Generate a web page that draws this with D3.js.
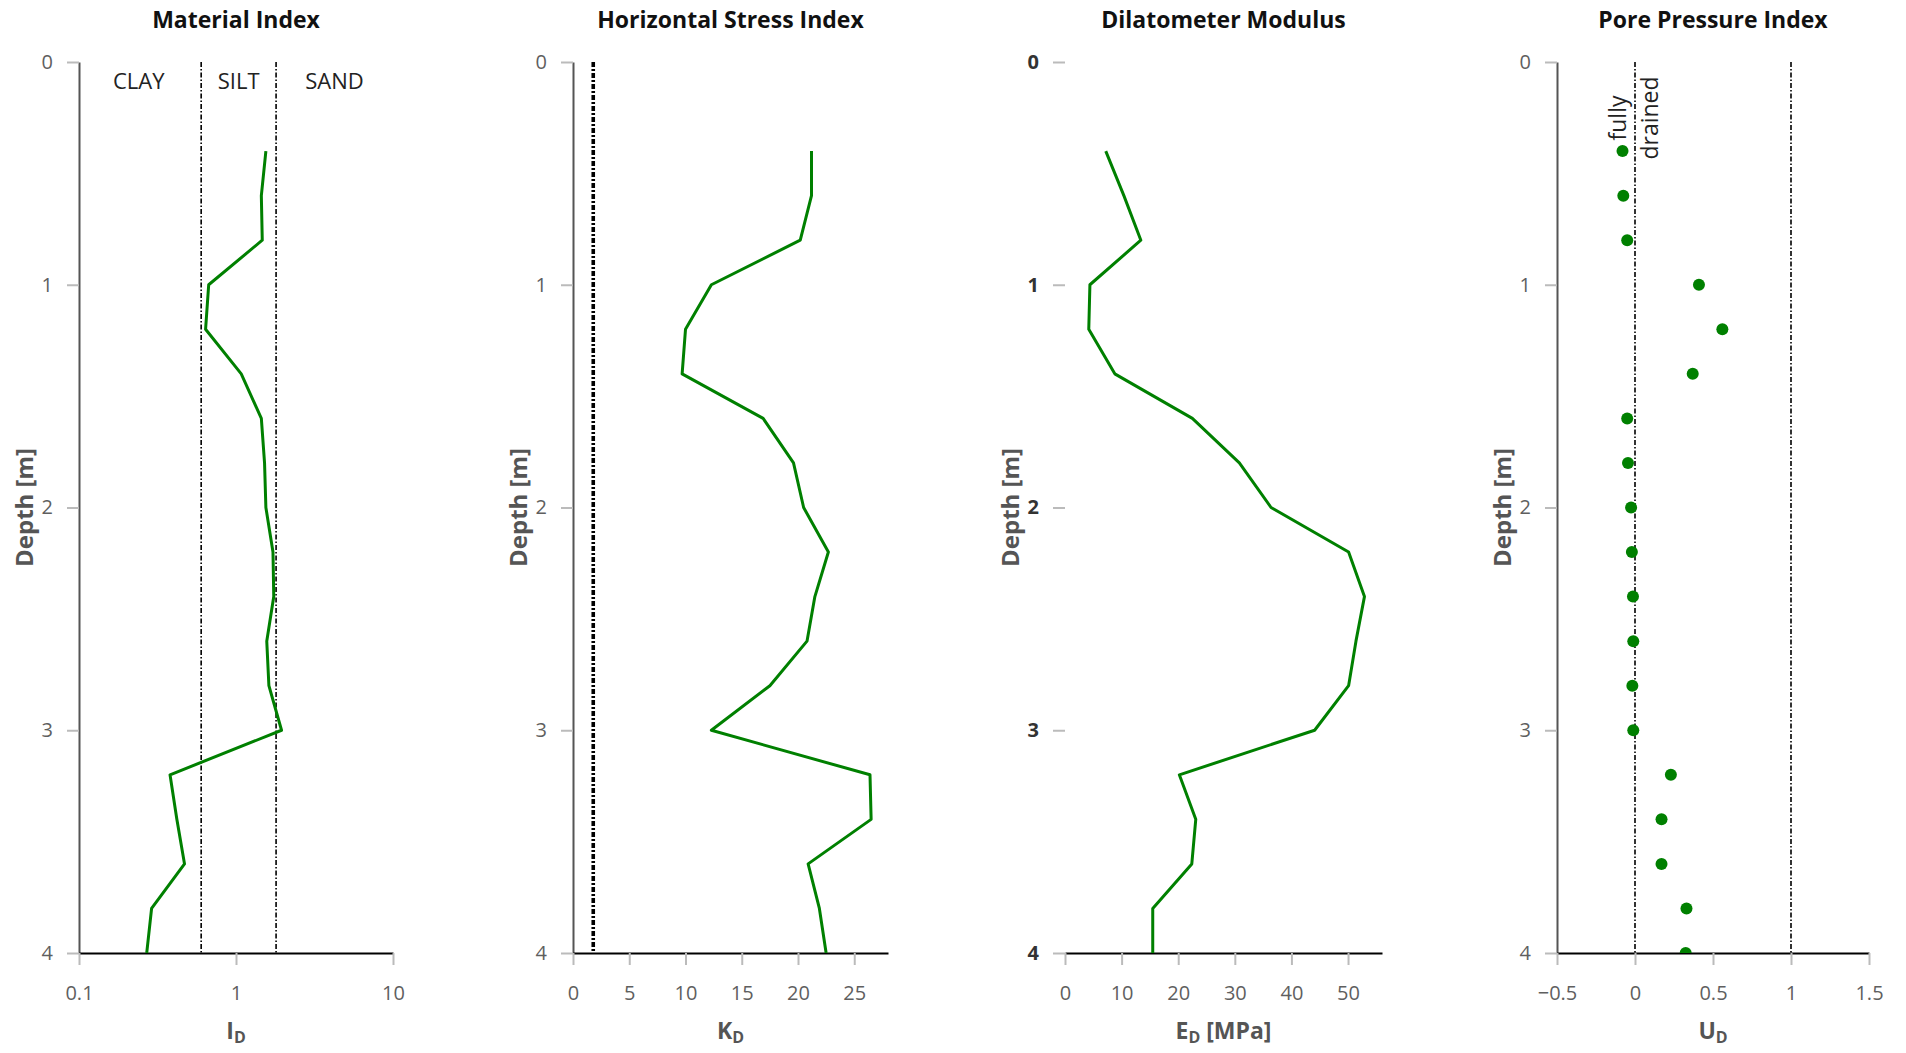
<!DOCTYPE html>
<html>
<head>
<meta charset="utf-8">
<script src="https://cdn.jsdelivr.net/npm/d3@7"></script>
<style>
  html, body { margin: 0; padding: 0; background: #fff; }
  svg { display: block; font-family: "Open Sans", "DejaVu Sans", sans-serif; }
</style>
</head>
<body>
<svg id="chart" width="1906" height="1053"></svg>
<script>
// DMT sounding: depth profile of the four dilatometer indices
const depths = [0.4, 0.6, 0.8, 1.0, 1.2, 1.4, 1.6, 1.8, 2.0, 2.2, 2.4, 2.6, 2.8, 3.0, 3.2, 3.4, 3.6, 3.8, 4.0];
const materialIndex = [1.55, 1.45, 1.47, 0.67, 0.64, 1.08, 1.45, 1.52, 1.55, 1.72, 1.74, 1.57, 1.62, 1.95, 0.38, 0.42, 0.47, 0.29, 0.27];
const horizontalStressIndex = [21.2, 21.2, 20.2, 12.3, 10.0, 9.7, 16.9, 19.6, 20.5, 22.7, 21.5, 20.8, 17.5, 12.3, 26.4, 26.5, 20.9, 21.9, 22.5];
const dilatometerModulus = [7.2, 10.4, 13.4, 4.4, 4.2, 8.8, 22.5, 30.8, 36.4, 50.1, 52.9, 51.4, 50.1, 44.1, 20.2, 23.1, 22.4, 15.5, 15.5];
const porePressureIndex = [-0.08, -0.075, -0.05, 0.41, 0.56, 0.37, -0.05, -0.045, -0.025, -0.02, -0.013, -0.011, -0.017, -0.011, 0.23, 0.17, 0.17, 0.33, 0.325];

const depthTicks = [0, 1, 2, 3, 4];
const materialTicks = [0.1, 1, 10];
const stressTicks = [0, 5, 10, 15, 20, 25];
const modulusTicks = [0, 10, 20, 30, 40, 50];
const poreTicks = [-0.5, 0, 0.5, 1, 1.5];

const panelTitles = ["Material Index", "Horizontal Stress Index", "Dilatometer Modulus", "Pore Pressure Index"];
const soilClasses = ["CLAY", "SILT", "SAND"];
const soilBoundaries = [0.6, 1.8];
const stressReference = [1.8];
const poreReferences = [0, 1];
const drainedNote = ["fully", "drained"];

// ---- layout ----
const svg = d3.select("#chart");
const plotTop = 62, plotBottom = 953;
const green = "#008000";
const fmt = d3.format("~g");

const y = d3.scaleLinear().domain([0, 4]).range([plotTop, plotBottom]);

const panels = [
  { title: panelTitles[0], x: d3.scaleLog().domain([0.1, 10]).range([79, 393]),
    ticks: materialTicks, values: materialIndex, mode: "line",
    label: [["I"], ["D", true]], refs: soilBoundaries, refWidth: 1.6, axisLine: true },
  { title: panelTitles[1], x: d3.scaleLinear().domain([0, 28]).range([573, 888]),
    ticks: stressTicks, values: horizontalStressIndex, mode: "line",
    label: [["K"], ["D", true]], refs: stressReference, refWidth: 3.6, axisLine: true },
  { title: panelTitles[2], x: d3.scaleLinear().domain([0, 56]).range([1065, 1382]),
    ticks: modulusTicks, values: dilatometerModulus, mode: "line",
    label: [["E"], ["D", true], [" [MPa]"]], refs: [], refWidth: 0, axisLine: false, boldDepth: true },
  { title: panelTitles[3], x: d3.scaleLinear().domain([-0.5, 1.5]).range([1557, 1869]),
    ticks: poreTicks, values: porePressureIndex, mode: "points",
    label: [["U"], ["D", true]], refs: poreReferences, refWidth: 1.6, axisLine: true }
];

const defs = svg.append("defs");

panels.forEach((p, i) => {
  const [x0, x1] = p.x.range();
  const cx = (x0 + x1) / 2;
  const g = svg.append("g").attr("class", "panel-" + i);

  defs.append("clipPath").attr("id", "clip-" + i)
    .append("rect").attr("x", x0).attr("y", plotTop)
    .attr("width", x1 - x0).attr("height", plotBottom - plotTop);

  // title
  g.append("text").attr("x", cx).attr("y", 28)
    .attr("text-anchor", "middle").attr("font-size", 23).attr("font-weight", 700)
    .attr("fill", "#111").text(p.title);

  // reference (classification) lines
  g.selectAll("line.ref").data(p.refs).join("line").attr("class", "ref")
    .attr("x1", d => p.x(d)).attr("x2", d => p.x(d))
    .attr("y1", y(0)).attr("y2", y(4))
    .attr("stroke", "#000").attr("stroke-width", p.refWidth)
    .attr("stroke-dasharray", i === 1 ? "5,2,2,2" : "5,2,1.5,2");

  // depth axis
  const yAxis = g.append("g").attr("transform", `translate(${x0},0)`)
    .call(d3.axisLeft(y).tickValues(depthTicks).tickFormat(fmt)
      .tickSize(12).tickSizeOuter(0).tickPadding(14));
  yAxis.select(".domain").attr("stroke", p.axisLine ? "#555" : "none").attr("stroke-width", 2);
  yAxis.selectAll(".tick line").attr("stroke", "#bbb").attr("stroke-width", 2);
  yAxis.selectAll(".tick text").attr("font-size", 20)
    .attr("font-family", "'Open Sans', sans-serif")
    .attr("fill", p.boldDepth ? "#333" : "#5f5f5f")
    .attr("font-weight", p.boldDepth ? 700 : 400);

  // value axis
  const xAxis = g.append("g").attr("transform", `translate(0,${plotBottom})`)
    .call(d3.axisBottom(p.x).tickValues(p.ticks).tickFormat(fmt)
      .tickSize(12).tickSizeOuter(0).tickPadding(21));
  xAxis.select(".domain").attr("stroke", "#000").attr("stroke-width", 2);
  xAxis.selectAll(".tick line").attr("stroke", "#bbb").attr("stroke-width", 2);
  xAxis.selectAll(".tick text").attr("font-size", 20)
    .attr("font-family", "'Open Sans', sans-serif").attr("fill", "#5f5f5f");

  // axis titles
  const lab = g.append("text").attr("x", cx).attr("y", 1039)
    .attr("text-anchor", "middle").attr("font-size", 23).attr("font-weight", 700).attr("fill", "#555");
  let shifted = false;
  p.label.forEach(([t, sub]) => {
    const ts = lab.append("tspan").text(t);
    if (sub) { ts.attr("font-size", 16).attr("dy", 4); shifted = true; }
    else if (shifted) { ts.attr("dy", -4); shifted = false; }
  });

  g.append("text")
    .attr("transform", `translate(${x0 - 46},${(plotTop + plotBottom) / 2}) rotate(-90)`)
    .attr("text-anchor", "middle").attr("font-size", 24).attr("font-weight", 700)
    .attr("fill", "#555").text("Depth [m]");

  // data
  const rows = depths.map((d, k) => ({ depth: d, value: p.values[k] }));
  const dataG = g.append("g").attr("clip-path", `url(#clip-${i})`);
  if (p.mode === "line") {
    dataG.append("path").datum(rows)
      .attr("fill", "none").attr("stroke", green).attr("stroke-width", 3)
      .attr("stroke-linejoin", "round")
      .attr("d", d3.line().x(d => p.x(d.value)).y(d => y(d.depth)));
  } else {
    dataG.selectAll("circle").data(rows).join("circle")
      .attr("cx", d => p.x(d.value)).attr("cy", d => y(d.depth))
      .attr("r", 6).attr("fill", green);
  }
});

// soil class labels on the material index panel
const mi = panels[0].x;
const classAnchors = [0.24, Math.sqrt(soilBoundaries[0] * soilBoundaries[1]), Math.sqrt(soilBoundaries[1] * 10)];
svg.append("g").selectAll("text").data(soilClasses).join("text")
  .attr("x", (d, k) => mi(classAnchors[k])).attr("y", 89)
  .attr("text-anchor", "middle").attr("font-size", 22).attr("fill", "#222")
  .text(d => d);

// drainage note along the U_D = 0 line
const ud = panels[3].x;
const note = svg.append("text")
  .attr("transform", `translate(${ud(0)},118) rotate(-90)`)
  .attr("text-anchor", "middle").attr("font-size", 23).attr("fill", "#222");
note.append("tspan").attr("x", 0).attr("y", -9).text(drainedNote[0]);
note.append("tspan").attr("x", 0).attr("y", 23).text(drainedNote[1]);
</script>
</body>
</html>
